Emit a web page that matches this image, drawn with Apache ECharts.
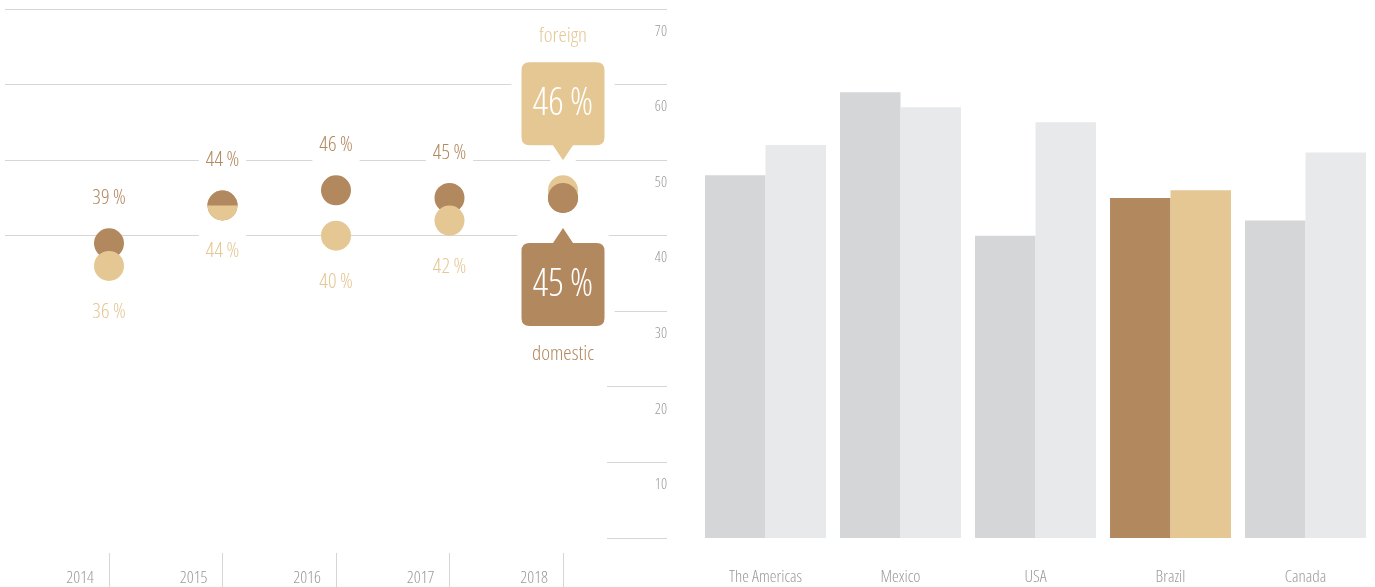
<!DOCTYPE html>
<html><head><meta charset="utf-8">
<script src="https://cdn.jsdelivr.net/npm/echarts@6/dist/echarts.min.js"></script>
<style>html,body{margin:0;padding:0;background:#fff}#c{width:1375px;height:587px}</style>
</head><body><div id="c"></div>
<script>
// ---- data ----
const years = ['2014', '2015', '2016', '2017', '2018'];
const domestic = [39, 44, 46, 45, 45];
const foreign = [36, 44, 40, 42, 46];
const regions = ['The Americas', 'Mexico', 'USA', 'Brazil', 'Canada'];
const regionDomestic = [48, 59, 40, 45, 42];
const regionForeign = [52, 57, 55, 46, 51];
const highlightRegion = 'Brazil';
const seriesNames = ['domestic', 'foreign'];
const yMin = 0, yMax = 70, yStep = 10;

// ---- styles ----
const FONT = "'Open Sans', 'Roboto Condensed', sans-serif";
const FS = 'condensed', FW = 300;
const BROWN = '#b2885f', TAN = '#e5c794', GREY1 = '#d5d6d8', GREY2 = '#e8e9eb';
const GRID = '#d6d6d6', TXT = '#9a9a9a';
const last = years.length - 1;
const pct = v => v + '\u2009%';
const txt = (size, color) => ({ fontSize: size, color: color, fontFamily: FONT, fontStyle: FS, fontWeight: FW });

const calloutDown = 'path://M8,0 H75 Q83,0 83,8 V75 Q83,83 75,83 H51.5 L41.5,98 L31.5,83 H8 Q0,83 0,75 V8 Q0,0 8,0 Z';
const calloutUp = 'path://M41.5,0 L51.5,15 H75 Q83,15 83,23 V90 Q83,98 75,98 H8 Q0,98 0,90 V23 Q0,15 8,15 H31.5 Z';
const halfTop = 'path://M0,15 A15,15 0 0 1 30,15 Z';

const splitColors = [];
for (let v = yMin; v <= yMax; v += yStep) splitColors.push(v < 40 ? 'rgba(0,0,0,0)' : GRID);

const smallLabel = (color, dy) => Object.assign({
  show: true, position: 'inside', offset: [0, dy],
  backgroundColor: '#fff', padding: [6, 7], formatter: p => pct(p.value[1])
}, txt(21, color));

const dotItems = (vals, color, dy) => vals.map((v, i) => ({
  value: [years[i], v],
  label: i === last ? { show: false } : smallLabel(color, dy)
}));

const topItems = [];
years.forEach((y, i) => {
  if (i === last) topItems.push({ value: [y, domestic[i]] });
  else if (domestic[i] === foreign[i]) topItems.push({ value: [y, domestic[i]], symbol: halfTop, symbolSize: [30, 15], symbolOffset: [0, -7.5] });
});

const option = {
  animation: false,
  grid: [
    { left: 5, top: 9, width: 662, height: 529 },
    { left: 607, top: 311, width: 60, height: 227 },
    { left: 52.25, top: 9, width: 567.5, height: 529 },
    { left: 698, top: 9, width: 675, height: 529 },
    { left: 52.25, top: 553, width: 567.5, height: 34 }
  ],
  xAxis: [
    { gridIndex: 0, type: 'value', min: 0, max: 1, show: false },
    { gridIndex: 1, type: 'value', min: 0, max: 1, show: false },
    { gridIndex: 2, type: 'category', data: years, show: false },
    { gridIndex: 3, type: 'category', data: regions,
      axisLine: { show: false }, axisTick: { show: false },
      axisLabel: Object.assign({ margin: 31, interval: 0 }, txt(17, TXT)) },
    { gridIndex: 4, type: 'category', data: years, position: 'bottom',
      axisLine: { show: false },
      axisTick: { show: true, inside: true, length: 34, alignWithLabel: true, lineStyle: { color: GRID } },
      axisLabel: Object.assign({ inside: true, margin: 0, align: 'right', padding: [0, 15, 0, 0], interval: 0 }, txt(17, TXT)),
      splitLine: { show: false } }
  ],
  yAxis: [
    { gridIndex: 0, type: 'value', min: yMin, max: yMax, interval: yStep, position: 'right',
      axisLine: { show: false }, axisTick: { show: false },
      axisLabel: Object.assign({ inside: true, margin: 0, align: 'right', verticalAlign: 'top', padding: [15, 0, 0, 0], showMinLabel: false }, txt(15, TXT)),
      splitLine: { show: true, lineStyle: { color: splitColors, width: 1 } } },
    { gridIndex: 1, type: 'value', min: 0, max: 30, interval: yStep,
      axisLine: { show: false }, axisTick: { show: false }, axisLabel: { show: false },
      splitLine: { show: true, lineStyle: { color: GRID, width: 1 } } },
    { gridIndex: 2, type: 'value', min: yMin, max: yMax, show: false },
    { gridIndex: 3, type: 'value', min: yMin, max: yMax, show: false },
    { gridIndex: 4, type: 'value', min: 0, max: 1, show: false }
  ],
  series: [
    // white backdrops behind callouts (break the grid lines), carrying the names
    { type: 'scatter', xAxisIndex: 2, yAxisIndex: 2, z: 2, silent: true,
      data: [
        { value: [years[last], foreign[last]], symbol: calloutDown, symbolSize: [83, 98], symbolOffset: [0, -79],
          label: Object.assign({ show: true, position: 'inside', offset: [0, -75], formatter: seriesNames[1] }, txt(21, TAN)) },
        { value: [years[last], domestic[last]], symbol: calloutUp, symbolSize: [83, 98], symbolOffset: [0, 79],
          label: Object.assign({ show: true, position: 'inside', offset: [0, 77], formatter: seriesNames[0] }, txt(21, BROWN)) }
      ],
      itemStyle: { color: '#fff', opacity: 1, borderColor: '#fff', borderWidth: 22, borderJoin: 'round' } },
    { name: 'domestic', type: 'scatter', xAxisIndex: 2, yAxisIndex: 2, z: 3, symbolSize: 30,
      itemStyle: { color: BROWN, opacity: 1 }, data: dotItems(domestic, BROWN, -45) },
    { name: 'foreign', type: 'scatter', xAxisIndex: 2, yAxisIndex: 2, z: 4, symbolSize: 30,
      itemStyle: { color: TAN, opacity: 1 }, data: dotItems(foreign, TAN, 46) },
    { name: 'domestic-top', type: 'scatter', xAxisIndex: 2, yAxisIndex: 2, z: 5, symbolSize: 30,
      itemStyle: { color: BROWN, opacity: 1 }, data: topItems },
    // callouts
    { type: 'scatter', xAxisIndex: 2, yAxisIndex: 2, z: 6, silent: true,
      data: [
        { value: [years[last], foreign[last]], symbol: calloutDown, symbolSize: [83, 98], symbolOffset: [0, -79],
          itemStyle: { color: TAN, opacity: 1 },
          label: Object.assign({ show: true, position: 'inside', offset: [0, -7.5], formatter: p => pct(p.value[1]) }, txt(38, '#fff')) },
        { value: [years[last], domestic[last]], symbol: calloutUp, symbolSize: [83, 98], symbolOffset: [0, 79],
          itemStyle: { color: BROWN, opacity: 1 },
          label: Object.assign({ show: true, position: 'inside', offset: [0, 8], formatter: p => pct(p.value[1]) }, txt(38, '#fff')) }
      ] },
    // bars
    { name: 'domestic', type: 'bar', xAxisIndex: 3, yAxisIndex: 3, barGap: '0%', barCategoryGap: '10.4%',
      data: regionDomestic.map((v, i) => ({ value: v, itemStyle: { color: regions[i] === highlightRegion ? BROWN : GREY1 } })) },
    { name: 'foreign', type: 'bar', xAxisIndex: 3, yAxisIndex: 3, barGap: '0%', barCategoryGap: '10.4%',
      data: regionForeign.map((v, i) => ({ value: v, itemStyle: { color: regions[i] === highlightRegion ? TAN : GREY2 } })) }
  ]
};
const chart = echarts.init(document.getElementById('c'), null, { renderer: 'canvas' });
chart.setOption(option);
</script>
</body></html>
